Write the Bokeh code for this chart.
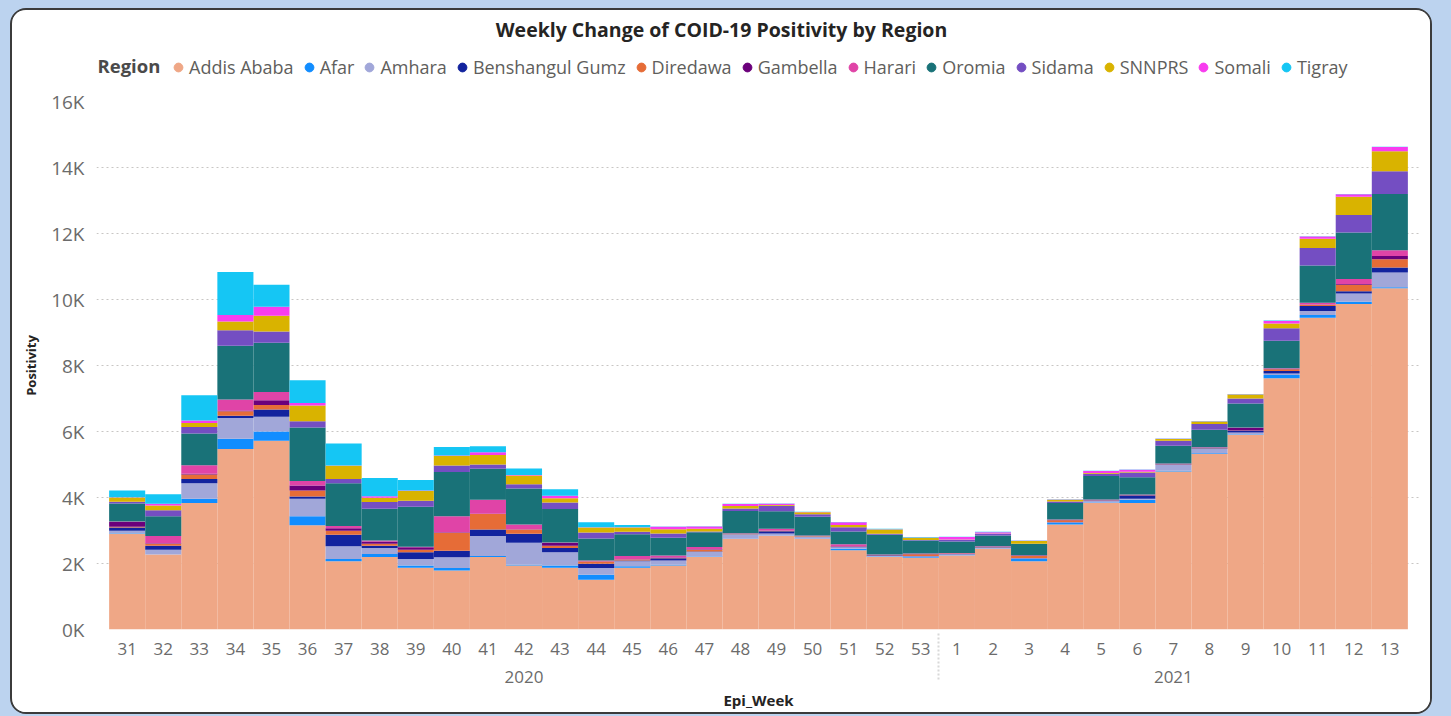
from bokeh.plotting import figure
from bokeh.layouts import column
from bokeh.models import (ColumnDataSource, FactorRange, Range1d, FixedTicker,
                          Legend, LegendItem, Label)
from bokeh.embed import file_html
from bokeh.resources import INLINE

# ---------------- data ----------------
years = ["2020"] * 23 + ["2021"] * 13
weeks = ["31", "32", "33", "34", "35", "36", "37", "38", "39", "40", "41", "42",
         "43", "44", "45", "46", "47", "48", "49", "50", "51", "52", "53",
         "1", "2", "3", "4", "5", "6", "7", "8", "9", "10", "11", "12", "13"]

regions = ["Addis Ababa", "Afar", "Amhara", "Benshangul Gumz", "Diredawa", "Gambella",
           "Harari", "Oromia", "Sidama", "SNNPRS", "Somali", "Tigray"]
colors = ["#EFA786", "#118DFF", "#A1A7D9", "#12239E", "#E66C37", "#6B007B",
          "#E044A7", "#197278", "#744EC2", "#D9B300", "#F83CEF", "#15C6F4"]

addis_ababa = [2900, 2270, 3830, 5470, 5720, 3160, 2070, 2200, 1870, 1790, 2200, 1940,
               1870, 1510, 1870, 1940, 2200, 2740, 2840, 2740, 2400, 2200, 2170,
               2240, 2440, 2070, 3180, 3830, 3830, 4790, 5320, 5900, 7610, 9450, 9860, 10340]
afar = [20, 0, 130, 310, 280, 270, 70, 90, 70, 70, 30, 20,
        70, 150, 50, 20, 10, 10, 10, 10, 50, 10, 20,
        10, 10, 70, 50, 20, 100, 20, 20, 20, 100, 80, 70, 30]
amhara = [70, 150, 470, 630, 450, 530, 380, 180, 200, 330, 600, 670,
          400, 200, 150, 130, 140, 130, 60, 60, 40, 20, 30,
          30, 30, 20, 20, 50, 30, 180, 140, 50, 50, 120, 250, 450]
benshangul_gumz = [100, 120, 130, 70, 220, 70, 350, 70, 200, 200, 200, 270,
                   130, 130, 20, 70, 10, 10, 70, 10, 10, 10, 10,
                   10, 10, 10, 10, 10, 100, 10, 10, 50, 70, 150, 70, 150]
diredawa = [20, 60, 140, 130, 130, 180, 120, 60, 80, 540, 470, 130,
            70, 70, 30, 10, 60, 10, 10, 10, 10, 10, 50,
            10, 10, 60, 50, 10, 10, 10, 10, 10, 60, 40, 200, 250]
gambella = [150, 10, 20, 30, 150, 150, 80, 70, 70, 20, 10, 10,
            80, 10, 10, 10, 10, 10, 10, 10, 10, 10, 10,
            10, 10, 10, 10, 10, 10, 10, 10, 80, 10, 10, 20, 100]
harari = [10, 220, 260, 330, 250, 140, 70, 30, 20, 480, 420, 140,
          20, 20, 100, 60, 70, 10, 50, 10, 60, 10, 10,
          10, 10, 10, 10, 10, 10, 10, 10, 10, 20, 50, 150, 170]
oromia = [550, 600, 960, 1630, 1490, 1620, 1290, 960, 1210, 1340, 940, 1090,
          1010, 670, 660, 540, 450, 670, 530, 570, 390, 600, 400,
          350, 330, 340, 500, 710, 520, 540, 530, 730, 830, 1130, 1410, 1710]
sidama = [50, 180, 200, 470, 340, 190, 130, 200, 180, 200, 130, 130,
          200, 180, 70, 130, 20, 80, 170, 70, 130, 30, 10,
          50, 50, 10, 50, 70, 150, 150, 180, 150, 380, 530, 530, 690]
snnprs = [130, 150, 120, 260, 480, 480, 400, 130, 300, 290, 290, 270,
          130, 150, 130, 130, 80, 70, 20, 60, 70, 130, 70,
          10, 10, 80, 50, 20, 20, 50, 70, 120, 140, 280, 550, 600]
somali = [10, 50, 70, 200, 270, 70, 10, 50, 10, 10, 80, 10,
          70, 10, 10, 70, 70, 60, 40, 10, 80, 10, 10,
          70, 40, 10, 10, 60, 60, 10, 10, 10, 80, 70, 80, 130]
tigray = [200, 290, 770, 1300, 670, 690, 670, 550, 320, 260, 180, 200,
          200, 150, 70, 10, 10, 10, 10, 10, 10, 10, 10,
          10, 10, 10, 10, 10, 10, 10, 10, 10, 10, 10, 10, 10]

y_ticks = [0, 2000, 4000, 6000, 8000, 10000, 12000, 14000, 16000]
y_tick_labels = ["0K", "2K", "4K", "6K", "8K", "10K", "12K", "14K", "16K"]

series = [addis_ababa, afar, amhara, benshangul_gumz, diredawa, gambella,
          harari, oromia, sidama, snnprs, somali, tigray]

title_text = "Weekly Change of COID-19 Positivity by Region"
legend_title = "Region"

FONT = "Open Sans"

# ---------------- layout constants (pixels) ----------------
W = 1418
FRAME_L, FRAME_R = 84, 10
HEAD_H = 78
MAIN_TOP, FRAME_H, MAIN_BOTTOM = 13, 529, 82
MAIN_H = MAIN_TOP + FRAME_H + MAIN_BOTTOM

# ---------------- header: title + legend ----------------
head = figure(width=W, height=HEAD_H, x_range=Range1d(FRAME_L, W - FRAME_R),
              y_range=Range1d(0, HEAD_H),
              x_axis_type=None, y_axis_type=None, output_backend="svg",
              toolbar_location=None, title_location=None,
              min_border_left=FRAME_L, min_border_right=FRAME_R,
              min_border_top=0, min_border_bottom=0)
head.outline_line_color = None

head.add_layout(Label(x=709, y=HEAD_H - 19, text=title_text, text_font=FONT,
                      text_font_size="19.5px", text_font_style="bold",
                      text_color="#252423", text_align="center",
                      text_baseline="middle"))
head.add_layout(Label(x=FRAME_L + 1, y=HEAD_H - 55, text=legend_title, text_font=FONT,
                      text_font_size="18.5px", text_font_style="bold",
                      text_color="#4a4a4a", text_baseline="middle"))

items = []
for name, c in zip(regions, colors):
    r = head.scatter(x=[FRAME_L], y=[0], size=9, marker="circle",
                     fill_color=c, line_color=c, visible=False)
    items.append(LegendItem(label=name, renderers=[r]))
legend = Legend(items=items, orientation="horizontal", location=(71, HEAD_H - 69),
                border_line_color=None, background_fill_alpha=0,
                inactive_fill_alpha=0,
                padding=0, margin=0, spacing=4, label_standoff=-3,
                glyph_width=22, glyph_height=22, label_height=22,
                label_text_font=FONT, label_text_font_size="18px",
                label_text_color="#605E5C")
head.add_layout(legend, "center")

# ---------------- main chart ----------------
factors = list(zip(years, weeks))
data = {"x": factors}
for name, vals in zip(regions, series):
    data[name] = vals
src = ColumnDataSource(data)

x_range = FactorRange(*factors, factor_padding=0, group_padding=0,
                      subgroup_padding=0, range_padding=0.35,
                      range_padding_units="absolute")

p = figure(x_range=x_range, y_range=Range1d(y_ticks[0], y_ticks[-1]), width=W,
           height=MAIN_H, output_backend="svg", toolbar_location=None,
           title_location=None, min_border_left=FRAME_L, min_border_right=FRAME_R,
           min_border_top=MAIN_TOP, min_border_bottom=MAIN_BOTTOM)

p.vbar_stack(regions, x="x", width=1.0, source=src,
             fill_color=colors, line_color=None)

p.outline_line_color = None
p.xgrid.grid_line_color = None
p.ygrid.grid_line_color = "#C8C6C4"
p.ygrid.grid_line_dash = "2 3"
p.ygrid.grid_line_width = 1

p.yaxis.ticker = FixedTicker(ticks=y_ticks)
p.yaxis.major_label_overrides = dict(zip(y_ticks, y_tick_labels))
p.yaxis.axis_line_color = None
p.yaxis.major_tick_line_color = None
p.yaxis.minor_tick_line_color = None
p.yaxis.major_tick_out = 0
p.yaxis.minor_tick_out = 0
p.yaxis.major_label_text_font = FONT
p.yaxis.major_label_text_font_size = "19px"
p.yaxis.major_label_text_color = "#6b6b6b"
p.yaxis.major_label_standoff = 12
p.yaxis.axis_label = "Positivity"
p.yaxis.axis_label_text_font = FONT
p.yaxis.axis_label_text_font_size = "13px"
p.yaxis.axis_label_text_font_style = "bold"
p.yaxis.axis_label_text_color = "#252423"
p.yaxis.axis_label_standoff = 8

p.xaxis.axis_line_color = None
p.xaxis.major_tick_line_color = None
p.xaxis.minor_tick_line_color = None
p.xaxis.major_tick_out = 0
p.xaxis.minor_tick_out = 0
p.xaxis.major_label_text_font = FONT
p.xaxis.major_label_text_font_size = "17px"
p.xaxis.major_label_text_color = "#6b6b6b"
p.xaxis.major_label_standoff = 13
p.xaxis.group_text_font = FONT
p.xaxis.group_text_font_size = "17px"
p.xaxis.group_text_font_style = "normal"
p.xaxis.group_text_color = "#6b6b6b"
p.xaxis.separator_line_color = "#d8d8d8"
p.xaxis.separator_line_dash = "2 2"
p.xaxis.axis_label = "Epi_Week"
p.xaxis.axis_label_text_font = FONT
p.xaxis.axis_label_text_font_size = "15px"
p.xaxis.axis_label_text_font_style = "bold"
p.xaxis.axis_label_text_color = "#252423"
p.xaxis.axis_label_standoff = 4

layout = column(head, p, spacing=0)
layout.styles = {"border": "2px solid #3b3b3b", "border-radius": "16px",
                 "overflow": "hidden", "background-color": "white"}

html = file_html(layout, INLINE)
css = ("<style>html, body {background-color:#bcd3ef !important;} "
       "body {padding:8px 0 0 10px !important; box-sizing:border-box;}</style>")
html = html.replace("</head>", css + "</head>", 1)
open("out.html", "w").write(html)
